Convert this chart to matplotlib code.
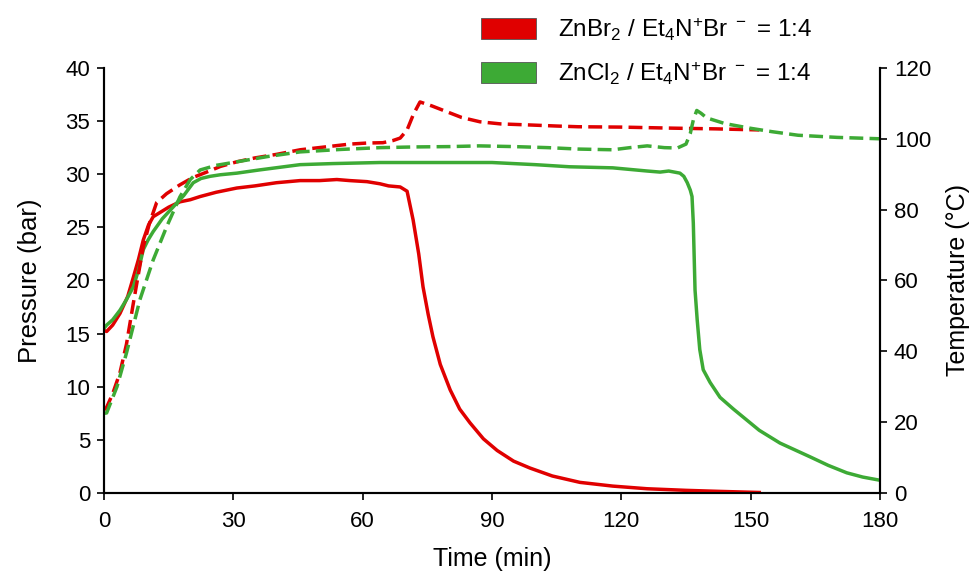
import matplotlib
matplotlib.use("Agg")
import matplotlib.pyplot as plt
from matplotlib.patches import Patch

plt.rcParams['font.family'] = ['Liberation Sans', 'DejaVu Sans']
plt.rcParams['mathtext.default'] = 'regular'

# ZnBr2 / Et4N+Br- : pressure (bar) and temperature (degC)
t_br_p = [0, 0.6, 2, 3.7, 5.5, 6.8, 8, 9.1, 10.3, 11.4, 13, 15, 17.6, 20, 22.3, 26, 30.8, 35, 40,
          45.5, 50, 54, 57, 61, 64, 66, 68.7, 70.3, 71.7, 73, 74, 75.2, 76.3, 78, 80.3, 82.5,
          84.9, 88, 91.2, 95, 98.8, 104, 110.4, 118, 126, 135, 143, 152]
p_br = [15.3, 15.2, 15.8, 16.9, 18.5, 20.3, 22.0, 23.8, 25.2, 26.0, 26.4, 26.9, 27.4, 27.6, 27.9,
        28.3, 28.7, 28.9, 29.2, 29.4, 29.4, 29.5, 29.4, 29.3, 29.1, 28.9, 28.8, 28.4, 25.7, 22.5,
        19.4, 16.8, 14.7, 12.1, 9.7, 7.9, 6.6, 5.1, 4.0, 3.0, 2.35, 1.6, 1.0, 0.65, 0.4, 0.25,
        0.15, 0.05]
t_br_t = [0, 0.6, 2, 3.7, 5.2, 6.8, 8, 9.1, 10.5, 12.2, 14.5, 17.6, 20.5, 23.8, 27, 30.8, 35, 40,
          45.5, 52, 57, 61, 64.7, 67, 68.7, 70.3, 71.8, 73.3, 76, 79.6, 83, 87.2, 92, 98.8, 105,
          110, 120, 132, 142, 152]
temp_br = [23.5, 24.2, 28, 34, 42, 53.6, 62, 69.5, 76, 82, 84.5, 87, 89, 90.6, 92.2, 93.5, 94.6,
           95.6, 96.9, 97.8, 98.5, 98.8, 98.9, 99.5, 100.2, 102.5, 107, 110.4, 109.3, 107.6, 106.0,
           104.8, 104.2, 103.9, 103.6, 103.4, 103.3, 103.0, 102.8, 102.5]

# ZnCl2 / Et4N+Br-
t_cl_p = [0, 0.6, 2, 3.7, 5.2, 6.8, 8, 9.1, 10.2, 11.4, 13.5, 16, 18.5, 20.7, 22.5, 24.6, 27, 30.8,
          36, 45.5, 53, 64, 80, 90, 100, 108, 118, 126, 129, 131, 133.6, 134.5, 135.3, 136, 136.4,
          136.7, 137.1, 137.6, 138.2, 139, 140.6, 142.9, 146, 149, 152, 156.8, 163.8, 168, 172.3,
          176, 180]
p_cl = [15.5, 15.8, 16.3, 17.2, 18.2, 19.4, 21.0, 22.9, 23.8, 24.6, 25.8, 26.9, 28.0, 29.2, 29.6,
        29.8, 29.95, 30.1, 30.4, 30.9, 31.0, 31.1, 31.1, 31.1, 30.9, 30.7, 30.6, 30.3, 30.2, 30.3,
        30.1, 29.8, 29.2, 28.5, 27.9, 25.4, 19.1, 16.3, 13.5, 11.6, 10.4, 9.0, 7.9, 6.9, 5.9, 4.7,
        3.4, 2.6, 1.9, 1.5, 1.2]
t_cl_t = [0, 0.6, 3, 5.2, 8.3, 11.4, 14.5, 17.6, 20, 22.3, 26, 30.8, 38, 45.5, 55, 64, 72, 80.3,
          87, 95, 103, 110, 118, 122, 126, 130, 133, 135, 136, 136.7, 137.5, 138.5, 139.8, 144,
          149.8, 155, 161, 170, 180]
temp_cl = [22.5, 22.6, 30, 39.5, 54.5, 65.8, 75.1, 83.6, 88.5, 91.2, 92.5, 93.5, 95.0, 96.3, 97.0,
           97.5, 97.7, 97.8, 98.0, 97.8, 97.5, 97.1, 96.9, 97.5, 98.0, 97.5, 97.4, 98.5, 101.5,
           105.3, 108.0, 107.2, 105.9, 104.3, 103.0, 102.0, 101.0, 100.4, 100.0]

labels = [r'ZnBr$_2$ / Et$_4$N$^{+}$Br$^{\ -}$ = 1:4', r'ZnCl$_2$ / Et$_4$N$^{+}$Br$^{\ -}$ = 1:4']
x_ticks = [0, 30, 60, 90, 120, 150, 180]

red = '#e00000'
green = '#3daa35'

fig = plt.figure(figsize=(9.76, 5.71), dpi=100)
ax = fig.add_axes([0.1066, 0.1366, 0.795, 0.7444])
ax2 = ax.twinx()

lw = 2.5
ax.plot(t_br_p, p_br, color=red, lw=lw, zorder=3)
ax.plot(t_cl_p, p_cl, color=green, lw=lw, zorder=3)
ax2.plot(t_br_t, temp_br, color=red, lw=lw, dashes=(4, 1.8))
ax2.plot(t_cl_t, temp_cl, color=green, lw=lw, dashes=(4, 1.8))

ax.set_xlim(0, 180)
ax.set_ylim(0, 40)
ax2.set_ylim(0, 120)
ax.set_xticks(x_ticks)
ax.set_yticks(range(0, 41, 5))
ax2.set_yticks(range(0, 121, 20))

for a in (ax, ax2):
    a.spines['top'].set_visible(False)
    for s in a.spines.values():
        s.set_linewidth(1.5)
    a.tick_params(direction='out', length=5, width=1.2, labelsize=16, pad=5)
ax.tick_params(axis='x', pad=8)

ax.set_ylabel('Pressure (bar)', fontsize=18.5, labelpad=17)
ax2.set_ylabel('Temperature (°C)', fontsize=18, labelpad=11)
ax.set_xlabel('Time (min)', fontsize=18, labelpad=11)

handles = [Patch(facecolor=red, edgecolor='#555555', lw=0.6),
           Patch(facecolor=green, edgecolor='#555555', lw=0.6)]
fig.legend(handles, labels, loc='upper left', bbox_to_anchor=(0.47, 1.01), frameon=False,
           fontsize=17.5, handlelength=2.3, handleheight=0.95, handletextpad=0.9,
           labelspacing=0.7)

fig.savefig('out.png', dpi=100)
